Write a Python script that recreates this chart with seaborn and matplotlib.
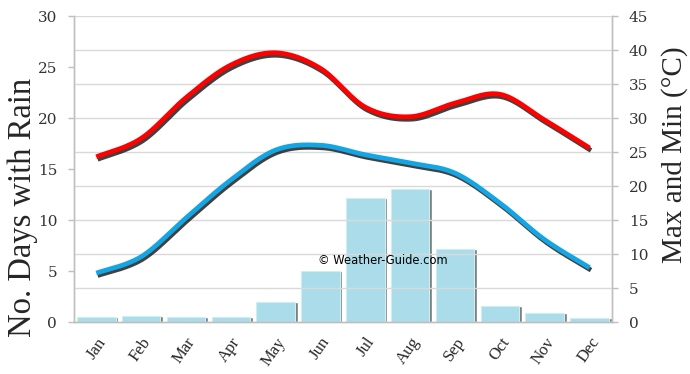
import numpy as np
import pandas as pd
import matplotlib
matplotlib.use("Agg")
import matplotlib.pyplot as plt
import matplotlib.patheffects as pe
import seaborn as sns

months = ["Jan", "Feb", "Mar", "Apr", "May", "Jun", "Jul", "Aug", "Sep", "Oct", "Nov", "Dec"]
rain_days = [0.5, 0.6, 0.5, 0.5, 2.0, 5.0, 12.2, 13.0, 7.2, 1.6, 0.9, 0.4]
temp_max = [24.3, 27.0, 33.0, 37.8, 39.6, 37.3, 31.6, 30.2, 32.2, 33.5, 29.7, 25.6]
temp_min = [7.2, 9.6, 15.3, 20.9, 25.3, 26.0, 24.6, 23.4, 21.9, 17.5, 12.1, 8.0]
left_ticks = [0, 5, 10, 15, 20, 25, 30]
right_ticks = [0, 5, 10, 15, 20, 25, 30, 35, 40, 45]


def catmull_rom(y, n=30):
    """Smooth rendering of a series (like a spreadsheet 'smoothed line')."""
    y = np.asarray(y, float)
    x = np.arange(len(y), dtype=float)
    P = np.concatenate([[y[0]], y, [y[-1]]])
    X = np.concatenate([[x[0]], x, [x[-1]]])
    xs, ys = [], []
    for i in range(1, len(P) - 2):
        t = np.linspace(0, 1, n, endpoint=False)
        for arr, out in ((X, xs), (P, ys)):
            p0, p1, p2, p3 = arr[i - 1], arr[i], arr[i + 1], arr[i + 2]
            m1 = (p2 - p0) / 2
            m2 = (p3 - p1) / 2
            h00 = 2 * t**3 - 3 * t**2 + 1
            h10 = t**3 - 2 * t**2 + t
            h01 = -2 * t**3 + 3 * t**2
            h11 = t**3 - t**2
            out.extend(h00 * p1 + h10 * m1 + h01 * p2 + h11 * m2)
    xs.append(x[-1]); ys.append(y[-1])
    return np.array(xs), np.array(ys)


sns.set_style("white")
plt.rcParams["font.family"] = ["Liberation Serif", "DejaVu Serif"]

fig = plt.figure(figsize=(6.9, 3.74), dpi=100)
ax = fig.add_axes([0.107, 0.139, 0.78, 0.818])
ax2 = ax.twinx()

df = pd.DataFrame({"month": months, "rain": rain_days})

# shadow bars
ax.bar(np.arange(len(months)) + 0.06, rain_days, width=0.86, color="#7a7a7a", zorder=1)
sns.barplot(data=df, x="month", y="rain", ax=ax, color="#aadde9", saturation=1,
            width=0.86, zorder=2)
for p in ax.patches[len(months):]:
    p.set_edgecolor("#cdeef5")
    p.set_linewidth(0.8)

ax.set_xlim(-0.5, 11.5)
ax.set_ylim(0, 30)
ax2.set_ylim(0, 45)

# grid following the right axis
for v in right_ticks[1:]:
    ax2.axhline(v, color="#d9d9d9", lw=1.0, zorder=0)
ax2.set_zorder(ax.get_zorder() + 1)
ax2.patch.set_visible(False)
ax.set_zorder(0)

for s, col in ((temp_max, "#ff0000"), (temp_min, "#14a6e4")):
    xs, ys = catmull_rom(s)
    ax2.plot(xs, ys, color=col, lw=3.4, solid_capstyle="butt",
             path_effects=[pe.SimpleLineShadow(offset=(1.0, -1.8), shadow_color="#111111", alpha=0.8),
                           pe.Normal()])

tick_font = dict(family=["DejaVu Serif"], size=11)
ax.set_yticks(left_ticks)
ax.set_yticklabels([str(t) for t in left_ticks], **tick_font, color="#333333")
ax2.set_yticks(right_ticks)
ax2.set_yticklabels([str(t) for t in right_ticks], **tick_font, color="#333333")

ax.set_xticks(range(len(months)))
ax.set_xticklabels(months, rotation=55, ha="right", rotation_mode="anchor", fontsize=12)
ax.set_xticks(np.arange(-0.5, 12, 1), minor=True)
ax.tick_params(axis="x", which="major", length=0, pad=9)
ax.tick_params(axis="x", which="minor", length=5, color="#bfbfbf", width=1)
ax.tick_params(axis="y", length=4.5, color="#bfbfbf", width=1, pad=7.5, direction="out", left=True)
ax2.tick_params(axis="y", length=4.5, color="#bfbfbf", width=1, pad=7.5, direction="out", right=True)
ax.set_xlabel("")

ax.set_ylabel("No. Days with Rain", fontsize=23.5)
ax2.set_ylabel("Max and Min (°C)", fontsize=21)
ax.yaxis.set_label_coords(-0.066, 0.373)
ax2.yaxis.set_label_coords(1.091, 0.546)

for a in (ax, ax2):
    a.spines["top"].set_visible(False)
    for k in ("left", "right", "bottom"):
        a.spines[k].set_color("#bfbfbf")
        a.spines[k].set_linewidth(1)

ax2.text(6.4, 9.0, "© Weather-Guide.com", ha="center", va="center", fontsize=8.3,
         family=["DejaVu Sans"], color="black", zorder=5)

fig.savefig("out.png", dpi=100)
